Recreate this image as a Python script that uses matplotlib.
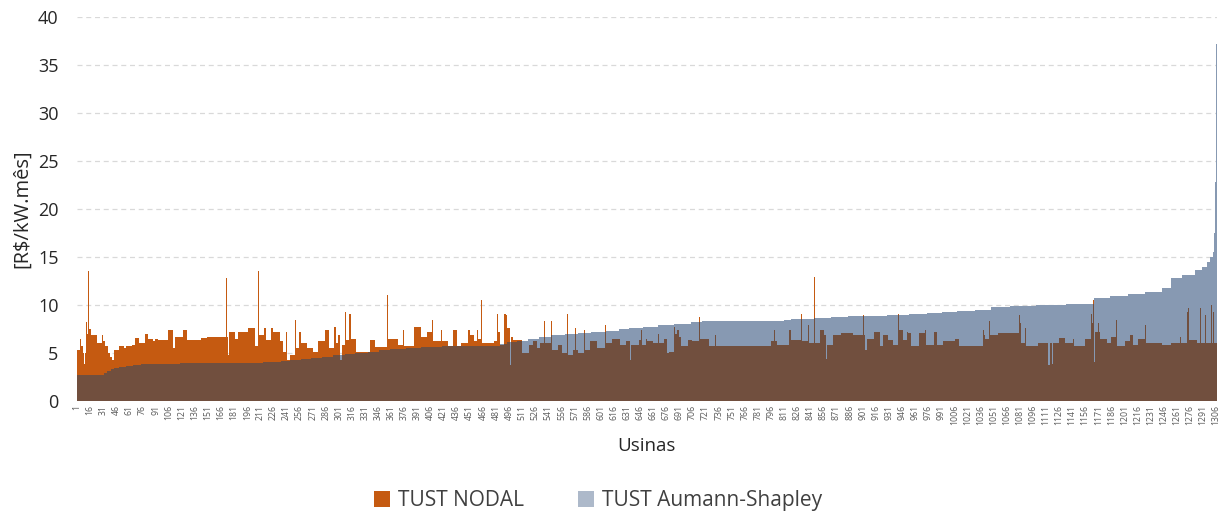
import numpy as np
import matplotlib
matplotlib.use('Agg')
import matplotlib.pyplot as plt
from matplotlib.patches import Patch

plt.rcParams['font.family'] = ['Open Sans', 'DejaVu Sans']

N_USINAS = 1306

# TUST Aumann-Shapley, run-length: value holds from start bar until next start
as_start = [1, 32, 36, 40, 44, 50, 58, 66, 75, 90, 120, 180, 215, 235, 245,
            258, 270, 282, 295, 308, 320, 335, 348, 360, 378, 396, 420, 470,
            486, 494, 505, 518, 531, 545, 560, 575, 590, 608, 622, 634, 650,
            667, 685, 705, 717, 812, 820, 846, 865, 885, 905, 930, 955, 975,
            993, 1010, 1030, 1049, 1070, 1100, 1135, 1167, 1185, 1205, 1225,
            1244, 1255, 1267, 1282, 1290, 1296, 1300, 1303, 1304, 1305, 1306]
as_level = [2.7, 2.9, 3.1, 3.3, 3.45, 3.55, 3.65, 3.75, 3.85, 3.9, 3.95, 4.0,
            4.05, 4.15, 4.3, 4.4, 4.5, 4.6, 4.75, 4.9, 5.0, 5.15, 5.3, 5.45,
            5.55, 5.65, 5.7, 5.75, 5.9, 6.1, 6.3, 6.5, 6.7, 6.85, 7.0, 7.1,
            7.2, 7.3, 7.45, 7.6, 7.75, 7.9, 8.05, 8.2, 8.3, 8.4, 8.5, 8.6,
            8.7, 8.85, 8.9, 9.0, 9.1, 9.2, 9.3, 9.4, 9.5, 9.8, 9.9, 10.0,
            10.1, 10.7, 10.9, 11.1, 11.4, 11.8, 12.8, 13.1, 13.6, 14.0, 14.5,
            15.0, 15.5, 17.5, 22.8, 37.2]

# TUST NODAL, same run-length layout
nodal_start = [1, 5, 6, 8, 10, 11, 12, 13, 14, 15, 18, 24, 30, 31, 34, 37, 39,
               41, 44, 50, 55, 58, 64, 68, 73, 79, 83, 88, 91, 94, 106, 112,
               114, 123, 128, 135, 136, 143, 150, 172, 173, 174, 176, 182, 186,
               197, 205, 209, 210, 216, 218, 224, 226, 234, 237, 241, 242, 245,
               251, 252, 256, 258, 265, 272, 277, 278, 286, 290, 296, 298, 300,
               303, 305, 309, 310, 313, 315, 321, 337, 343, 357, 358, 369, 375,
               376, 388, 396, 403, 408, 409, 418, 420, 426, 427, 432, 437, 441,
               449, 452, 456, 460, 461, 464, 465, 479, 483, 484, 486, 491, 493,
               494, 497, 499, 501, 511, 519, 524, 528, 532, 537, 538, 545, 546,
               553, 557, 563, 564, 570, 572, 573, 575, 582, 583, 589, 597, 606,
               607, 614, 623, 630, 635, 636, 645, 648, 649, 653, 655, 661, 667,
               668, 674, 677, 680, 685, 686, 689, 691, 693, 701, 706, 714, 715,
               726, 732, 733, 797, 800, 801, 803, 817, 820, 831, 832, 839, 840,
               846, 847, 853, 857, 860, 861, 868, 877, 891, 902, 903, 904, 907,
               914, 921, 925, 931, 936, 942, 943, 948, 952, 953, 957, 966, 973,
               974, 983, 987, 994, 1007, 1012, 1039, 1041, 1042, 1046, 1047,
               1057, 1081, 1082, 1083, 1088, 1089, 1103, 1114, 1116, 1118, 1120,
               1127, 1133, 1143, 1144, 1156, 1163, 1164, 1165, 1166, 1167, 1168,
               1171, 1172, 1173, 1181, 1186, 1192, 1193, 1202, 1208, 1211, 1217,
               1225, 1226, 1236, 1237, 1245, 1255, 1265, 1266, 1273, 1274, 1275,
               1285, 1288, 1289, 1294, 1295, 1301, 1302, 1303, 1304]
nodal_level = [5.3, 6.5, 5.7, 5.0, 3.9, 5.0, 8.2, 7.0, 13.5, 7.5, 6.9, 6.0, 6.9,
               6.3, 5.7, 5.0, 4.6, 4.3, 5.3, 5.7, 5.5, 5.7, 5.8, 6.6, 6.0, 7.0,
               6.5, 6.2, 6.5, 6.4, 7.4, 5.5, 6.7, 7.4, 6.4, 4.6, 6.4, 6.6, 6.7,
               12.8, 6.7, 4.8, 7.2, 6.5, 7.2, 7.6, 5.7, 13.5, 6.9, 7.6, 6.4,
               7.6, 7.2, 6.2, 5.1, 7.2, 4.3, 4.8, 8.4, 5.5, 7.2, 6.0, 5.5, 5.1,
               8.4, 6.2, 7.4, 5.5, 7.7, 6.0, 6.9, 4.3, 5.8, 9.3, 6.4, 9.1, 6.5,
               5.1, 6.4, 5.6, 11.0, 6.5, 5.8, 7.4, 5.7, 7.7, 6.7, 7.2, 8.4, 6.2,
               7.4, 6.2, 7.4, 5.7, 7.4, 5.7, 6.0, 7.4, 6.9, 6.2, 7.4, 6.5, 10.5,
               6.0, 6.2, 9.1, 7.2, 5.8, 9.1, 9.0, 7.6, 3.75, 6.7, 6.35, 5.0,
               5.8, 6.2, 5.5, 6.0, 8.3, 6.0, 8.3, 5.3, 5.8, 5.0, 9.1, 4.8, 5.3,
               7.6, 5.3, 5.0, 7.4, 5.3, 6.2, 5.5, 7.9, 6.0, 6.5, 5.8, 6.2, 4.3,
               5.8, 6.4, 7.4, 5.8, 6.5, 6.2, 6.0, 7.0, 6.0, 6.5, 5.0, 5.1, 7.7,
               7.0, 7.4, 6.7, 5.7, 6.4, 6.2, 8.7, 6.5, 5.7, 6.9, 5.7, 6.2, 7.4,
               6.2, 5.8, 7.4, 6.4, 9.1, 6.2, 7.9, 6.0, 12.95, 6.0, 7.4, 6.9,
               4.4, 5.8, 6.9, 7.05, 6.9, 9.0, 6.9, 5.3, 6.5, 7.2, 5.7, 6.9, 6.4,
               5.8, 9.1, 7.4, 6.4, 7.2, 7.05, 5.7, 7.05, 7.4, 5.8, 7.2, 5.8, 6.2,
               6.5, 5.7, 7.4, 6.9, 6.5, 8.3, 6.9, 7.05, 9.0, 8.1, 6.0, 7.6, 5.7,
               6.0, 3.75, 6.0, 3.9, 6.0, 6.6, 6.0, 6.5, 5.7, 6.5, 9.1, 8.1, 6.5,
               10.5, 4.1, 7.2, 8.1, 7.2, 6.5, 6.0, 6.7, 8.4, 5.7, 6.2, 6.9, 5.8,
               6.5, 7.9, 6.0, 13.3, 6.0, 5.8, 6.0, 6.7, 6.0, 9.3, 9.65, 6.35,
               6.0, 9.65, 6.0, 9.0, 6.0, 10.0, 6.0, 9.3, 6.0]

yticks = [0, 5, 10, 15, 20, 25, 30, 35, 40]
xtick_labels = list(range(1, N_USINAS + 1, 15))


def expand(starts, levels, n):
    out = np.zeros(n)
    bounds = list(starts) + [n + 1]
    for k, v in enumerate(levels):
        out[bounds[k] - 1:bounds[k + 1] - 1] = v
    return out


tust_as = expand(as_start, as_level, N_USINAS)
tust_nodal = expand(nodal_start, nodal_level, N_USINAS)
usinas = np.arange(1, N_USINAS + 1)

c_nodal = '#C55A11'
c_as = '#8799B2'
c_both = '#714F3E'

fig = plt.figure(figsize=(12.18, 5.12), dpi=100)
ax = fig.add_axes([0.0629, 0.2168, 0.9359, 0.7502])

for y in yticks[1:]:
    ax.axhline(y, color='#D9D9D9', lw=0.9, ls=(0, (4, 3)), zorder=0)

ax.bar(usinas, tust_as, width=1.0, color=c_as, linewidth=0, zorder=2)
ax.bar(usinas, tust_nodal, width=1.0, color=c_nodal, linewidth=0, zorder=3)
ax.bar(usinas, np.minimum(tust_as, tust_nodal), width=1.0, color=c_both,
       linewidth=0, zorder=4)

ax.set_xlim(0.5, N_USINAS + 0.5)
ax.set_ylim(0, 40)
ax.set_yticks(yticks)
ax.set_yticklabels([str(t) for t in yticks], fontsize=13, color='#262626')
ax.set_xticks(xtick_labels)
ax.set_xticklabels([str(t) for t in xtick_labels], rotation=90, fontsize=6.3,
                   color='#595959')
ax.tick_params(axis='y', length=0, pad=13)
ax.tick_params(axis='x', length=0, pad=3)
for s in ax.spines.values():
    s.set_visible(False)

ax.set_ylabel('[R$/kW.mês]', fontsize=14.5, color='#262626', labelpad=4)
ax.set_xlabel('Usinas', fontsize=13.5, color='#262626', labelpad=8)

handles = [Patch(facecolor=c_nodal, edgecolor='none'),
           Patch(facecolor='#ADB9CA', edgecolor='none')]
fig.legend(handles, ['TUST NODAL', 'TUST Aumann-Shapley'], loc='lower center',
           bbox_to_anchor=(0.491, -0.035), ncol=2, frameon=False, fontsize=15,
           handlelength=0.75, handleheight=0.75, handletextpad=0.4,
           columnspacing=2.6, labelcolor='#404040')

fig.savefig('out.png', dpi=100)
